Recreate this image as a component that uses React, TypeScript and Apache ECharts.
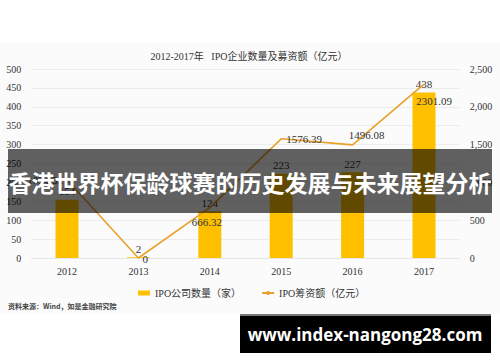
import React, { useEffect, useRef } from "react";
import * as echarts from "echarts";

const years = ["2012", "2013", "2014", "2015", "2016", "2017"];
const ipoCount = [154, 2, 124, 223, 227, 438];
const ipoFunds = [1034.32, 0, 666.32, 1576.39, 1496.08, 2301.09];
const leftTicks = { min: 0, max: 500, interval: 50 };
const rightTicks = { min: 0, max: 2500, interval: 500 };
const titleText = "2012-2017年   IPO企业数量及募资额（亿元）";
const barName = "IPO公司数量（家）";
const lineName = "IPO筹资额（亿元）";
const sourceText = "资料来源：Wind，如是金融研究院";
const bannerText = "香港世界杯保龄球赛的历史发展与未来展望分析";
const watermarkText = "www.index-nangong28.com";

const SERIF = "'Liberation Serif', 'DejaVu Serif', 'Noto Sans CJK SC', serif";
const CJK = "'Noto Sans CJK SC', sans-serif";

export default function App() {
  const ref = useRef<HTMLDivElement>(null);
  useEffect(() => {
    if (!ref.current) return;
    const chart = echarts.init(ref.current, undefined, { renderer: "svg" });
    const linePos: any[] = [
      { position: "left", distance: 4 },
      { position: "right", distance: 4, offset: [0, 1] },
      { position: "bottom", distance: 9, offset: [-3, 0] },
      { position: "right", distance: 5 },
      { position: "top", distance: 4, offset: [14, 0] },
      { position: "bottom", distance: 11, offset: [10, 0] },
    ];
    chart.setOption({
      animation: false,
      backgroundColor: "#ffffff",
      textStyle: { fontFamily: SERIF },
      title: {
        text: titleText,
        left: 244,
        top: 46,
        textAlign: "center",
        textStyle: { fontFamily: SERIF, fontSize: 10, fontWeight: "normal", color: "#333" },
      },
      grid: { left: 31.3, right: 40.3, top: 69, bottom: 104, containLabel: false },
      legend: {
        left: 133,
        top: 283,
        itemGap: 20,
        textStyle: { fontFamily: SERIF, fontSize: 10, color: "#333" },
        data: [
          { name: barName, icon: "rect", itemStyle: { color: "#FFC000" } },
          { name: lineName },
        ],
        itemWidth: 12,
        itemHeight: 5,
      },
      xAxis: {
        type: "category",
        data: years,
        axisLine: { show: true, lineStyle: { color: "#e6e6e6" } },
        axisTick: { show: false },
        axisLabel: { fontFamily: SERIF, fontSize: 10, color: "#333", margin: 8 },
      },
      yAxis: [
        {
          type: "value",
          ...leftTicks,
          axisLine: { show: false },
          axisTick: { show: false },
          splitLine: { lineStyle: { color: "#ececec" } },
          axisLabel: { fontFamily: SERIF, fontSize: 10, color: "#333", margin: 10 },
        },
        {
          type: "value",
          ...rightTicks,
          axisLine: { show: false },
          axisTick: { show: false },
          splitLine: { show: false },
          axisLabel: { fontFamily: SERIF, fontSize: 10, color: "#333", margin: 10 },
        },
      ],
      series: [
        {
          name: barName,
          type: "bar",
          data: ipoCount,
          barWidth: 23,
          itemStyle: { color: "#FFC000" },
          label: {
            show: true,
            position: "top",
            distance: 3,
            fontFamily: SERIF,
            fontSize: 11,
            color: "#333",
          },
        },
        {
          name: lineName,
          type: "line",
          yAxisIndex: 1,
          data: ipoFunds.map((v, i) => ({ value: v, label: linePos[i] })),
          symbol: "circle",
          symbolSize: 0.1,
          lineStyle: { color: "#E9A12A", width: 1.6 },
          itemStyle: { color: "#E9A12A" },
          label: {
            show: true,
            fontFamily: SERIF,
            fontSize: 11,
            color: "#333",
            formatter: (p: any) => (p.value === 0 ? "0" : Number(p.value).toFixed(2)),
          },
        },
      ],
      graphic: [
        {
          type: "rect",
          z: -10,
          silent: true,
          shape: { x: 0, y: 43, width: 500, height: 271 },
          style: { fill: "#fbfbfb" },
        },
        {
          type: "text",
          left: 8,
          top: 302,
          style: { text: sourceText, font: `bold 7px ${CJK}`, fill: "#444" },
        },
        {
          type: "rect",
          z: 100,
          shape: { x: 8, y: 149, width: 484, height: 64 },
          style: { fill: "rgba(0,0,0,0.62)" },
        },
        {
          type: "text",
          z: 101,
          x: 250,
          y: 182,
          style: {
            text: bannerText,
            font: `bold 23px ${CJK}`,
            fill: "#ffffff",
            align: "center",
            verticalAlign: "middle",
          },
        },
        {
          type: "rect",
          z: 100,
          shape: { x: 240, y: 314, width: 251, height: 2 },
          style: { fill: "#777" },
        },
        {
          type: "rect",
          z: 100,
          shape: { x: 240, y: 316, width: 251, height: 37 },
          style: { fill: "#000" },
        },
        {
          type: "text",
          z: 101,
          x: 365,
          y: 334,
          style: {
            text: watermarkText,
            font: `bold 17px 'Open Sans', 'DejaVu Sans', sans-serif`,
            fill: "#ffffff",
            align: "center",
            verticalAlign: "middle",
          },
        },
      ],
    });
    return () => chart.dispose();
  }, []);
  return (
    <div
      ref={ref}
      style={{ position: "fixed", left: 0, top: 0, width: 500, height: 362 }}
    />
  );
}
